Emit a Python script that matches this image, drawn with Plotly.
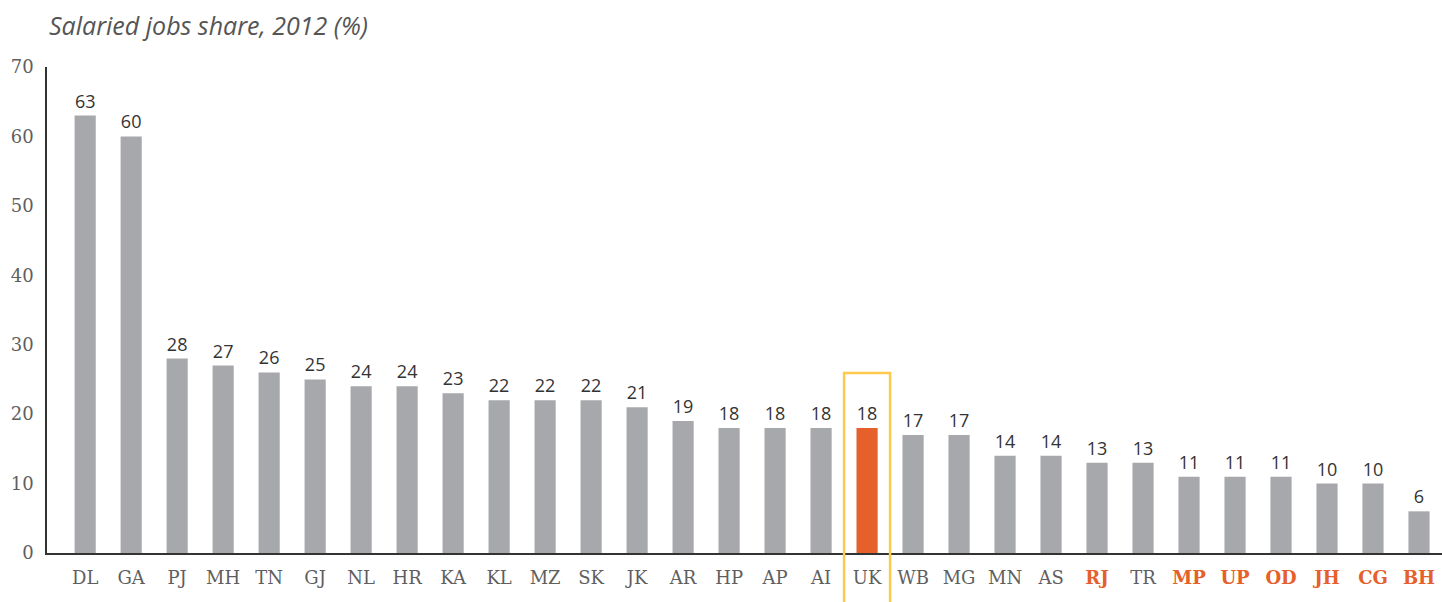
import plotly.graph_objects as go

states = ["DL", "GA", "PJ", "MH", "TN", "GJ", "NL", "HR", "KA", "KL", "MZ", "SK", "JK", "AR", "HP",
          "AP", "AI", "UK", "WB", "MG", "MN", "AS", "RJ", "TR", "MP", "UP", "OD", "JH", "CG", "BH"]
values = [63, 60, 28, 27, 26, 25, 24, 24, 23, 22, 22, 22, 21, 19, 18,
          18, 18, 18, 17, 17, 14, 14, 13, 13, 11, 11, 11, 10, 10, 6]
highlight_bar = "UK"
highlight_labels = ["RJ", "MP", "UP", "OD", "JH", "CG", "BH"]
y_ticks = [0, 10, 20, 30, 40, 50, 60, 70]

GRAY = "#A7A8AB"
ORANGE = "#E5602A"
YELLOW = "#FFC94D"

colors = [ORANGE if s == highlight_bar else GRAY for s in states]
ticktext = [f"<b><span style='color:{ORANGE}'>{s}</span></b>" if s in highlight_labels else s for s in states]

fig = go.Figure(go.Bar(
    x=states, y=values, marker=dict(color=colors, line=dict(width=0)),
    text=[str(v) for v in values], textposition="outside",
    textfont=dict(family="Open Sans", size=18, color="#333333"),
    cliponaxis=False, width=0.46,
))

ui = states.index(highlight_bar)
fig.add_shape(type="rect", xref="x", yref="paper", x0=ui - 0.5, x1=ui + 0.5,
              y0=-0.11, y1=(553 - 373) / 486, line=dict(color=YELLOW, width=2.5),
              fillcolor="rgba(0,0,0,0)", layer="above")

fig.add_annotation(text="<i>Salaried jobs share, 2012 (%)</i>", xref="paper", yref="paper",
                   x=0.0, y=1 + (67 - 25) / 486, xanchor="left", yanchor="middle",
                   showarrow=False, font=dict(family="Open Sans", size=25, color="#555555"))

fig.update_layout(
    width=1442, height=602, paper_bgcolor="white", plot_bgcolor="white",
    margin=dict(l=47, r=0, t=67, b=49),
    showlegend=False,
    xaxis=dict(range=[-0.83, 29.5], tickmode="array", tickvals=states, ticktext=ticktext,
               showline=True, linecolor="#333333", linewidth=1.5, showgrid=False,
               ticks="", ticklabelstandoff=8,
               tickfont=dict(family="DejaVu Serif", size=18, color="#5f5f5f")),
    yaxis=dict(range=[0, 70], tickvals=y_ticks, showline=True, linecolor="#333333", linewidth=1.5,
               showgrid=False, zeroline=False, ticks="", ticklabelstandoff=8,
               tickfont=dict(family="DejaVu Serif", size=18, color="#5f5f5f")),
)

fig.write_html("out.html", config={"displayModeBar": False},
               post_script="document.body.style.margin='0';document.body.style.overflow='hidden';")
